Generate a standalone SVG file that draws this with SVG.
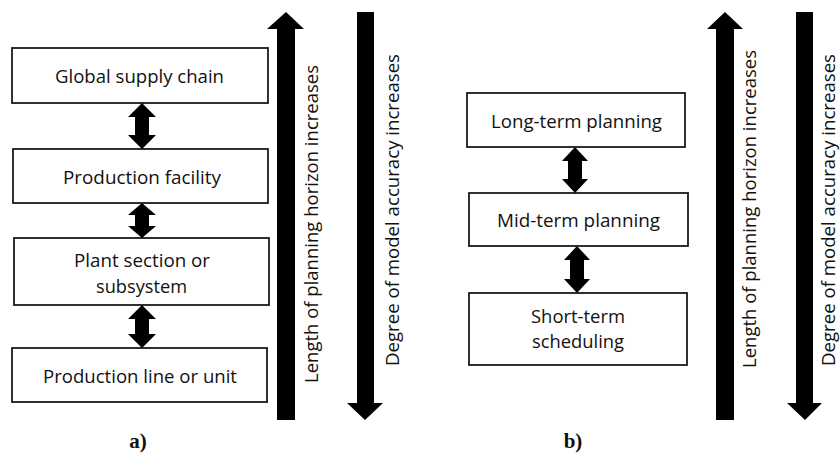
<svg xmlns="http://www.w3.org/2000/svg" width="840" height="454" viewBox="0 0 840 454">
  <style>
    .box { fill: #ffffff; stroke: #1a1a1a; stroke-width: 1.8; }
    .lbl { font-family: "Open Sans", "Liberation Sans", sans-serif; font-size: 18.5px; fill: #111111; text-anchor: middle; }
    .vlbl { font-family: "Open Sans", "Liberation Sans", sans-serif; font-size: 18.5px; fill: #111111; }
    .cap { font-family: "Liberation Serif", "Times New Roman", serif; font-size: 21px; font-weight: bold; fill: #111111; text-anchor: middle; }
    .arr { fill: #000000; }
  </style>
  <rect width="840" height="454" fill="#ffffff"/>

  <!-- Panel a: spatial scales -->
  <g id="global-supply-chain">
    <rect class="box" x="12" y="48" width="256" height="55"/>
    <text class="lbl" x="139.5" y="82.5" textLength="169" lengthAdjust="spacingAndGlyphs">Global supply chain</text>
  </g>
  <g id="production-facility">
    <rect class="box" x="13" y="149" width="255" height="54"/>
    <text class="lbl" x="142" y="183.5" textLength="158" lengthAdjust="spacingAndGlyphs">Production facility</text>
  </g>
  <g id="plant-section">
    <rect class="box" x="14" y="238" width="255" height="67"/>
    <text class="lbl" x="142" y="266.5" textLength="136" lengthAdjust="spacingAndGlyphs">Plant section or</text>
    <text class="lbl" x="141.5" y="292.5" textLength="91" lengthAdjust="spacingAndGlyphs">subsystem</text>
  </g>
  <g id="production-line">
    <rect class="box" x="12" y="348" width="255" height="54"/>
    <text class="lbl" x="140" y="382.5" textLength="194" lengthAdjust="spacingAndGlyphs">Production line or unit</text>
  </g>

  <!-- Panel b: temporal scales -->
  <g id="long-term-planning">
    <rect class="box" x="467" y="93" width="218" height="54"/>
    <text class="lbl" x="576.5" y="127.5" textLength="171" lengthAdjust="spacingAndGlyphs">Long-term planning</text>
  </g>
  <g id="mid-term-planning">
    <rect class="box" x="469" y="193" width="219" height="53"/>
    <text class="lbl" x="578.5" y="227" textLength="163" lengthAdjust="spacingAndGlyphs">Mid-term planning</text>
  </g>
  <g id="short-term-scheduling">
    <rect class="box" x="469" y="293" width="218" height="72"/>
    <text class="lbl" x="578" y="323" textLength="94" lengthAdjust="spacingAndGlyphs">Short-term</text>
    <text class="lbl" x="578" y="348" textLength="92" lengthAdjust="spacingAndGlyphs">scheduling</text>
  </g>

  <!-- Connectors: two-headed block arrows between levels, and the trend arrows -->
  <g id="connectors">
    <path class="arr" d="M142,103 L156,117 L149,117 L149,135 L156,135 L142,149 L128,135 L135,135 L135,117 L128,117 Z"/>
    <path class="arr" d="M142,203 L156,215 L149,215 L149,226 L156,226 L142,238 L128,226 L135,226 L135,215 L128,215 Z"/>
    <path class="arr" d="M142,305 L156,319 L149,319 L149,334 L156,334 L142,348 L128,334 L135,334 L135,319 L128,319 Z"/>
    <path class="arr" d="M575,147 L588,161 L582,161 L582,179 L588,179 L575,193 L562,179 L568,179 L568,161 L562,161 Z"/>
    <path class="arr" d="M577,246 L590,260 L584,260 L584,279 L590,279 L577,293 L564,279 L570,279 L570,260 L564,260 Z"/>

    <path class="arr" d="M286,12 L304,29 L295,29 L295,420 L277,420 L277,29 L267,29 Z"/>
    <path class="arr" d="M357,12 L374,12 L374,403 L383,403 L365,420 L347,403 L357,403 Z"/>
    <path class="arr" d="M725,12 L743,29 L734,29 L734,420 L716,420 L716,29 L707,29 Z"/>
    <path class="arr" d="M796,12 L813,12 L813,403 L822,403 L805,420 L787,403 L796,403 Z"/>
  </g>

  <!-- Trend labels, read bottom to top -->
  <text class="vlbl" transform="translate(318,383) rotate(-90)" textLength="318" lengthAdjust="spacingAndGlyphs">Length of planning horizon increases</text>
  <text class="vlbl" transform="translate(399,366) rotate(-90)" textLength="312" lengthAdjust="spacingAndGlyphs">Degree of model accuracy increases</text>
  <text class="vlbl" transform="translate(756,368) rotate(-90)" textLength="318" lengthAdjust="spacingAndGlyphs">Length of planning horizon increases</text>
  <text class="vlbl" transform="translate(835,366) rotate(-90)" textLength="312" lengthAdjust="spacingAndGlyphs">Degree of model accuracy increases</text>

  <!-- Panel captions -->
  <text class="cap" x="138" y="448">a)</text>
  <text class="cap" x="573" y="448">b)</text>
</svg>
